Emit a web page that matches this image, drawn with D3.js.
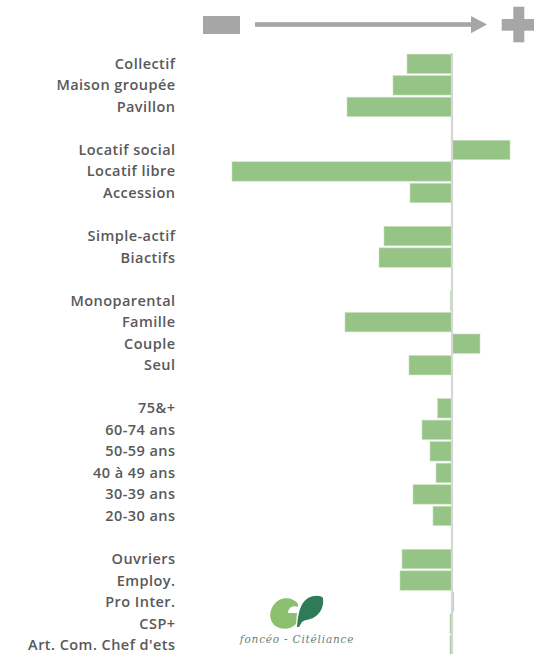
<!DOCTYPE html>
<html>
<head>
<meta charset="utf-8">
<script src="https://cdn.jsdelivr.net/npm/d3@7"></script>
<style>
  html, body { margin: 0; padding: 0; background: #ffffff; }
  svg { display: block; }
</style>
</head>
<body>
<div id="chart"></div>
<script>
// ---- Data ----
const groupHabitat   = ["Collectif", "Maison groupée", "Pavillon"];
const valuesHabitat  = [-2.25, -2.95, -5.25];

const groupStatut    = ["Locatif social", "Locatif libre", "Accession"];
const valuesStatut   = [2.9, -11.0, -2.1];

const groupActivite  = ["Simple-actif", "Biactifs"];
const valuesActivite = [-3.4, -3.65];

const groupMenage    = ["Monoparental", "Famille", "Couple", "Seul"];
const valuesMenage   = [-0.08, -5.35, 1.4, -2.15];

const groupAge       = ["75&+", "60-74 ans", "50-59 ans", "40 à 49 ans", "30-39 ans", "20-30 ans"];
const valuesAge      = [-0.72, -1.5, -1.1, -0.8, -1.95, -0.95];

const groupCSP       = ["Ouvriers", "Employ.", "Pro Inter.", "CSP+", "Art. Com. Chef d'ets"];
const valuesCSP      = [-2.5, -2.6, 0.09, -0.1, -0.1];

const groups = [
  [groupHabitat, valuesHabitat],
  [groupStatut, valuesStatut],
  [groupActivite, valuesActivite],
  [groupMenage, valuesMenage],
  [groupAge, valuesAge],
  [groupCSP, valuesCSP]
];

// Build rows with a blank spacer row between groups
const rows = [];
groups.forEach(([cats, vals], gi) => {
  if (gi > 0) rows.push({ key: "__gap" + gi, label: "", value: null });
  cats.forEach((c, i) => rows.push({ key: c, label: c, value: vals[i] }));
});

// ---- Layout ----
const W = 534, H = 654;
const svg = d3.select("#chart").append("svg")
  .attr("width", W).attr("height", H);

const y = d3.scaleBand()
  .domain(rows.map(r => r.key))
  .range([53.05, 53.05 + rows.length * 21.53])
  .paddingInner(0.1)
  .paddingOuter(0.05);

const x = d3.scaleLinear()
  .domain([-12, 4])
  .range([212, 532]);

const barColor = "#96c386";
const grey = "#a6a6a6";
const textColor = "#595959";

// ---- Top decoration: minus, arrow, plus ----
const deco = svg.append("g");
deco.append("rect").attr("x", 203).attr("y", 16).attr("width", 37).attr("height", 18).attr("fill", grey);
deco.append("rect").attr("x", 255).attr("y", 22.2).attr("width", 218).attr("height", 4.6).attr("fill", grey);
deco.append("path").attr("d", "M471,16 L487,24.5 L471,33.3 Z").attr("fill", grey);
deco.append("rect").attr("x", 513.3).attr("y", 6.7).attr("width", 11).attr("height", 35.6).attr("fill", grey);
deco.append("rect").attr("x", 501.7).attr("y", 19).attr("width", 34.5).attr("height", 11.7).attr("fill", grey);

// ---- Bars ----
const dataRows = rows.filter(r => r.value !== null);

svg.append("g").selectAll("rect")
  .data(dataRows)
  .join("rect")
  .attr("x", d => Math.min(x(0), x(d.value)))
  .attr("y", d => y(d.key))
  .attr("width", d => Math.abs(x(d.value) - x(0)))
  .attr("height", y.bandwidth())
  .attr("fill", barColor)
  .attr("stroke", "#c9e0bf")
  .attr("stroke-width", 0.6);

// ---- Zero line ----
svg.append("line")
  .attr("x1", x(0)).attr("x2", x(0))
  .attr("y1", 53).attr("y2", H)
  .attr("stroke", "#d6d6d6")
  .attr("stroke-width", 2.2);

// ---- Category labels ----
svg.append("g").selectAll("text")
  .data(dataRows)
  .join("text")
  .attr("x", 175.5)
  .attr("y", d => y(d.key) + y.bandwidth() / 2 + 5)
  .attr("text-anchor", "end")
  .attr("font-family", "'Open Sans', sans-serif")
  .attr("font-weight", 600)
  .attr("font-size", 14.5)
  .attr("letter-spacing", 0.45)
  .attr("fill", textColor)
  .text(d => d.label);

// ---- Logo (foncéo - Citéliance) ----
const logo = svg.append("g");
logo.append("path")
  .attr("d", "M298,604 C294,598 285,597 279,600 C271,605 268,615 272,622 C276,630 290,631 296,624 L297,613 L288,613 C288,608 293,605 298,607 Z")
  .attr("fill", "#8cc06e");
logo.append("path")
  .attr("d", "M297,627 C298,614 300,603 308,598 C314,595 321,595 323,598 C324,606 321,614 313,618 C308,620 304,620 302,622 L299,627 Z")
  .attr("fill", "#2f7a58");
logo.append("text")
  .attr("x", 297).attr("y", 643)
  .attr("text-anchor", "middle")
  .attr("font-family", "'DejaVu Serif', serif")
  .attr("font-style", "italic")
  .attr("font-size", 10.5)
  .attr("letter-spacing", 0.8)
  .attr("fill", "#6b7f74")
  .text("foncéo - Citéliance");
</script>
</body>
</html>
